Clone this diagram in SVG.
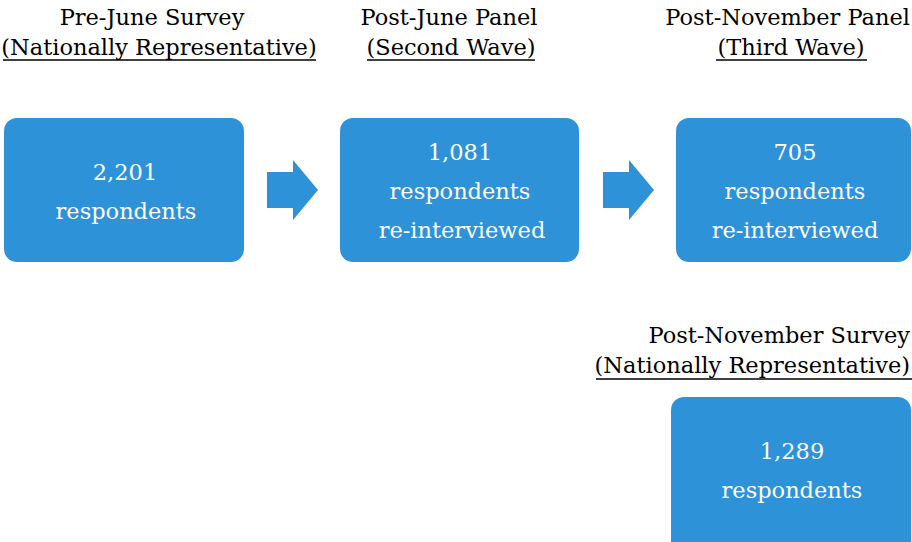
<svg xmlns="http://www.w3.org/2000/svg" width="912" height="542" viewBox="0 0 912 542">
<style>
.box{fill:#2E92D9}
.arrow{fill:#2E92D9}
.hd{font-family:"DejaVu Serif","Liberation Serif",serif;font-size:22.5px;fill:#000;text-anchor:middle}
.end{text-anchor:end}
.bt{font-family:"DejaVu Serif","Liberation Serif",serif;font-size:22.5px;fill:#fff;text-anchor:middle}
.ul{stroke:#000;stroke-width:1.5}
</style>
<rect width="912" height="542" fill="#fff"/>
<g id="header-pre-june">
<text class="hd" x="152" y="25">Pre-June Survey</text>
<text class="hd" x="159" y="55">(Nationally Representative)</text>
<line class="ul" x1="3" y1="60" x2="316" y2="60"/>
</g>
<g id="header-post-june">
<text class="hd" x="449" y="25">Post-June Panel</text>
<text class="hd" x="451" y="55">(Second Wave)</text>
<line class="ul" x1="367" y1="60" x2="535" y2="60"/>
</g>
<g id="header-post-november-panel">
<text class="hd end" x="910" y="25">Post-November Panel</text>
<text class="hd" x="791" y="55">(Third Wave)</text>
<line class="ul" x1="716" y1="60" x2="867" y2="60"/>
</g>
<g id="header-post-november-survey">
<text class="hd end" x="910" y="343">Post-November Survey</text>
<text class="hd end" x="910" y="373">(Nationally Representative)</text>
<line class="ul" x1="596" y1="379" x2="912" y2="379"/>
</g>
<g id="node-pre-june">
<rect class="box" x="4" y="118" width="240" height="144" rx="13"/>
<text class="bt" x="125" y="180">2,201</text>
<text class="bt" x="126" y="219">respondents</text>
</g>
<g id="node-post-june">
<rect class="box" x="340" y="118" width="239" height="144" rx="13"/>
<text class="bt" x="460" y="160">1,081</text>
<text class="bt" x="460" y="199">respondents</text>
<text class="bt" x="462" y="238">re-interviewed</text>
</g>
<g id="node-post-november-panel">
<rect class="box" x="676" y="118" width="235" height="144" rx="13"/>
<text class="bt" x="795" y="160">705</text>
<text class="bt" x="795" y="199">respondents</text>
<text class="bt" x="795" y="238">re-interviewed</text>
</g>
<g id="node-post-november-survey">
<rect class="box" x="671" y="397" width="240" height="160" rx="13"/>
<text class="bt" x="792" y="459">1,289</text>
<text class="bt" x="792" y="498">respondents</text>
</g>
<g id="connectors">
<polygon class="arrow" points="267,172 293,172 293,160 318,190 293,220 293,208 267,208"/>
<polygon class="arrow" points="603,172 629,172 629,160 654,190 629,220 629,208 603,208"/>
</g>
</svg>
